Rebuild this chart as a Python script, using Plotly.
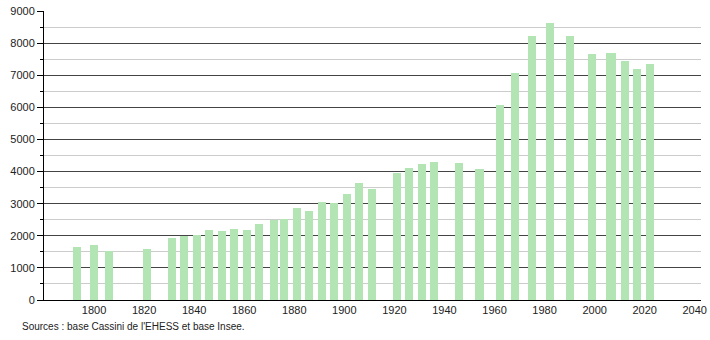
import plotly.graph_objects as go

years = [1793, 1800, 1806, 1821, 1831, 1836, 1841, 1846, 1851, 1856, 1861, 1866,
         1872, 1876, 1881, 1886, 1891, 1896, 1901, 1906, 1911, 1921, 1926, 1931,
         1936, 1946, 1954, 1962, 1968, 1975, 1982, 1990, 1999, 2006, 2007, 2012,
         2017, 2022]
population = [1660, 1720, 1535, 1600, 1940, 1980, 2030, 2190, 2160, 2220, 2190, 2370,
              2490, 2520, 2860, 2770, 3050, 3020, 3300, 3630, 3460, 3950, 4120, 4250,
              4290, 4260, 4080, 6080, 7060, 8230, 8620, 8230, 7660, 7680, 7700, 7450,
              7190, 7360]
x_ticks = [1800, 1820, 1840, 1860, 1880, 1900, 1920, 1940, 1960, 1980, 2000, 2020, 2040]
y_ticks = [0, 1000, 2000, 3000, 4000, 5000, 6000, 7000, 8000, 9000]
source_text = "Sources : base Cassini de l'EHESS et base Insee."

fig = go.Figure()
fig.add_trace(go.Bar(
    x=years, y=population, width=3.2,
    marker=dict(color="rgb(179,228,179)", line=dict(width=0)),
    hoverinfo="x+y",
))

fig.update_layout(
    width=710, height=340,
    margin=dict(l=44, r=9, t=11, b=40, autoexpand=False),
    paper_bgcolor="white", plot_bgcolor="white",
    font=dict(family="Liberation Sans, Arial, sans-serif", size=11, color="#222"),
    showlegend=False,
    bargap=0,
    xaxis=dict(
        range=[1780, 2042.5], tickvals=x_ticks, ticktext=[str(v) for v in x_ticks],
        showgrid=False, zeroline=False, showline=True, linecolor="black", linewidth=1,
        ticks="", tickfont=dict(size=11, color="#222"), automargin=False,
    ),
    yaxis=dict(
        range=[0, 9000], tickvals=y_ticks, ticktext=[str(v) for v in y_ticks],
        showgrid=True, gridcolor="#444", gridwidth=1,
        zeroline=False, showline=True, linecolor="black", linewidth=1,
        ticks="outside", ticklen=6, tickcolor="black", automargin=False,
        tickfont=dict(size=11, color="#222"),
        minor=dict(dtick=500, showgrid=True, gridcolor="#cccccc", gridwidth=1,
                   ticks="outside", ticklen=3, tickcolor="black"),
    ),
    annotations=[dict(
        text=source_text, xref="paper", yref="paper",
        x=-0.0365, y=-0.093, xanchor="left", yanchor="middle",
        showarrow=False, font=dict(size=10, color="#222"),
    )],
)
fig.write_html("out.html")
